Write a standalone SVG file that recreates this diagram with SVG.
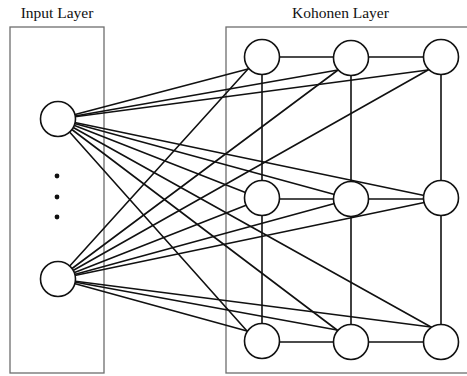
<svg xmlns="http://www.w3.org/2000/svg" width="467" height="376" viewBox="0 0 467 376">
<style>
.box{fill:none;stroke:#6e6e6e;stroke-width:1.3}
.ln{stroke:#111;stroke-width:1.6;fill:none;stroke-linecap:round}
.nd{fill:#fff;stroke:#111;stroke-width:1.6}
.lbl{font-family:"Liberation Serif","Times New Roman",serif;font-size:15.5px;fill:#111;text-anchor:middle}
</style>
<rect width="467" height="376" fill="#fff"/>
<text class="lbl" x="57" y="18">Input Layer</text>
<text class="lbl" x="340.5" y="18">Kohonen Layer</text>
<rect class="box" x="10" y="27" width="94" height="346"/>
<rect class="box" x="226" y="27" width="260" height="346"/>
<g id="connectors">
<!-- grid -->
<line class="ln" x1="262" y1="57" x2="441" y2="57"/>
<line class="ln" x1="262" y1="199" x2="441" y2="199"/>
<line class="ln" x1="262" y1="342" x2="441" y2="342"/>
<line class="ln" x1="262" y1="57" x2="262" y2="342"/>
<line class="ln" x1="351" y1="57" x2="351" y2="342"/>
<line class="ln" x1="441" y1="57" x2="441" y2="342"/>
<!-- from top input -->
<line class="ln" x1="58" y1="119" x2="248" y2="69"/>
<line class="ln" x1="58" y1="119" x2="338" y2="70"/>
<line class="ln" x1="58" y1="119" x2="428" y2="70"/>
<line class="ln" x1="58" y1="119" x2="262" y2="199"/>
<line class="ln" x1="58" y1="119" x2="351" y2="199"/>
<line class="ln" x1="58" y1="119" x2="441" y2="199"/>
<line class="ln" x1="58" y1="119" x2="247" y2="331"/>
<line class="ln" x1="58" y1="119" x2="337" y2="330"/>
<line class="ln" x1="58" y1="119" x2="431" y2="327"/>
<!-- from bottom input -->
<line class="ln" x1="58" y1="279" x2="248" y2="69"/>
<line class="ln" x1="58" y1="279" x2="338" y2="70"/>
<line class="ln" x1="58" y1="279" x2="428" y2="70"/>
<line class="ln" x1="58" y1="279" x2="262" y2="199"/>
<line class="ln" x1="58" y1="279" x2="351" y2="199"/>
<line class="ln" x1="58" y1="279" x2="441" y2="199"/>
<line class="ln" x1="58" y1="279" x2="247" y2="331"/>
<line class="ln" x1="58" y1="279" x2="337" y2="330"/>
<line class="ln" x1="58" y1="279" x2="431" y2="327"/>
</g>
<g id="in1"><circle class="nd" cx="58" cy="119" r="17.5"/></g>
<g id="in2"><circle class="nd" cx="58" cy="279" r="17.5"/></g>
<g id="dots" fill="#111"><circle cx="57" cy="176" r="2.4"/><circle cx="57" cy="197" r="2.4"/><circle cx="57" cy="217" r="2.4"/></g>
<g id="k11"><circle class="nd" cx="262" cy="57" r="17.5"/></g>
<g id="k12"><circle class="nd" cx="351" cy="58" r="17.5"/></g>
<g id="k13"><circle class="nd" cx="441" cy="57" r="17.5"/></g>
<g id="k21"><circle class="nd" cx="262" cy="198" r="17.5"/></g>
<g id="k22"><circle class="nd" cx="351" cy="199" r="17.5"/></g>
<g id="k23"><circle class="nd" cx="441" cy="198" r="17.5"/></g>
<g id="k31"><circle class="nd" cx="262" cy="341" r="17.5"/></g>
<g id="k32"><circle class="nd" cx="351" cy="342" r="17.5"/></g>
<g id="k33"><circle class="nd" cx="441" cy="342" r="17.5"/></g>
</svg>
